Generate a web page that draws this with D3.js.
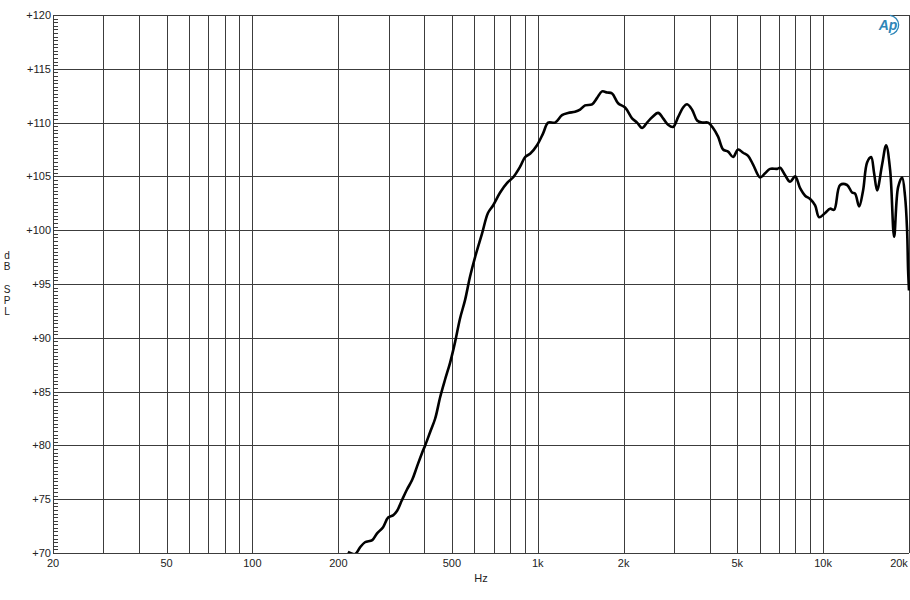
<!DOCTYPE html>
<html>
<head>
<meta charset="utf-8">
<script src="https://cdn.jsdelivr.net/npm/d3@7"></script>
<style>
html,body{margin:0;padding:0;background:#fff;}
svg{display:block;}
text{font-family:"Liberation Sans",Arial,sans-serif;fill:#222;}
</style>
</head>
<body>
<svg id="chart" width="910" height="600"></svg>
<script>
// ---- data ----
const freqs = [216,229,238,248,263,273,287,299,311,321,334,348,363,377,393,403,419,437,455,473,493,513,534,556,579,603,638,669,697,738,781,819,867,903,940,994,1044,1087,1150,1216,1277,1351,1407,1465,1550,1614,1680,1750,1822,1912,2023,2140,2229,2320,2416,2516,2641,2749,2862,2980,3103,3231,3336,3474,3617,3766,3953,4115,4285,4461,4645,4836,5035,5243,5459,5683,6015,6263,6520,6900,7069,7361,7662,7979,8307,8650,9006,9377,9684,10164,10582,10930,11472,12136,12636,12946,13370,13808,14262,14730,15092,15462,16100,16628,17174,17738,18318,18920,19380,19694,19854,20000];
const spl = [70.1,69.9,70.5,71.0,71.2,71.8,72.4,73.3,73.5,73.9,74.9,75.9,76.8,78.0,79.3,80.0,81.2,82.5,84.5,86.1,87.7,89.6,91.8,93.5,95.7,97.5,99.7,101.6,102.3,103.5,104.4,104.9,105.9,106.8,107.1,107.9,109.0,110.0,110.0,110.7,110.9,111.0,111.2,111.6,111.7,112.3,112.9,112.8,112.7,111.8,111.4,110.4,110.0,109.5,110.0,110.5,110.9,110.4,109.8,109.6,110.5,111.4,111.7,111.2,110.2,110.0,110.0,109.5,108.7,107.5,107.3,106.8,107.5,107.2,106.9,106.1,104.9,105.3,105.7,105.7,105.8,105.1,104.5,105.0,103.9,103.2,102.9,102.3,101.2,101.6,102.0,101.9,104.2,104.2,103.5,103.4,102.2,103.7,106.3,106.8,105.3,103.7,106.1,107.9,105.6,99.4,104.0,104.9,103.1,100.0,96.3,94.4];
const xGrid = [20,30,40,50,60,70,80,90,100,200,300,400,500,600,700,800,900,1000,2000,3000,4000,5000,6000,7000,8000,9000,10000,20000];
const xTickVals = [20,50,100,200,500,1000,2000,5000,10000,20000];
const xTickLabels = ["20","50","100","200","500","1k","2k","5k","10k","20k"];
const yTickVals = [70,75,80,85,90,95,100,105,110,115,120];
const yTickLabels = ["+70","+75","+80","+85","+90","+95","+100","+105","+110","+115","+120"];
const yLabelChars = ["d","B","","S","P","L"];
const xTitle = "Hz";

// ---- layout ----
const L = 53, R = 909, T = 15, B = 553;
const svg = d3.select("#chart");
const x = d3.scaleLog().domain([20,20000]).range([L,R]);
const y = d3.scaleLinear().domain([70,120]).range([B,T]);

const grid = svg.append("g").attr("stroke","#3c3c3c").attr("stroke-width",1).attr("shape-rendering","crispEdges");
grid.selectAll("line.v").data(xGrid).join("line").attr("class","v")
  .attr("x1",d=>Math.round(x(d))+0.5).attr("x2",d=>Math.round(x(d))+0.5).attr("y1",T).attr("y2",B);
grid.selectAll("line.h").data(yTickVals).join("line").attr("class","h")
  .attr("x1",L).attr("x2",R).attr("y1",d=>Math.round(y(d))+0.5).attr("y2",d=>Math.round(y(d))+0.5);
grid.append("line").attr("x1",L+0.5).attr("x2",L+0.5).attr("y1",T).attr("y2",B);

// minor ticks on left axis (1/3 dB)
const minor = d3.range(70, 120.001, 1/3);
grid.selectAll("line.m").data(minor).join("line").attr("class","m")
  .attr("x1",L).attr("x2",L+5).attr("y1",d=>Math.round(y(d))+0.5).attr("y2",d=>Math.round(y(d))+0.5);

// y labels
svg.append("g").selectAll("text").data(yTickVals).join("text")
  .attr("x",L-2).attr("y",d=>y(d)+4).attr("text-anchor","end")
  .attr("font-size",11).text((d,i)=>yTickLabels[i]);

// x labels (last one kept inside the page)
svg.append("g").selectAll("text").data(xTickVals).join("text")
  .attr("x",d=>Math.min(x(d), 899)).attr("y",567).attr("text-anchor","middle")
  .attr("font-size",11).text((d,i)=>xTickLabels[i]);

svg.append("text").attr("x",481).attr("y",582).attr("text-anchor","middle").attr("font-size",11).text(xTitle);

// y title stacked
svg.append("g").selectAll("text").data(yLabelChars).join("text")
  .attr("x",7).attr("y",(d,i)=>259+i*11.2).attr("text-anchor","middle")
  .attr("font-size",10).text(d=>d);

// curve
svg.append("clipPath").attr("id","clip").append("rect").attr("x",L).attr("y",T).attr("width",R-L+1).attr("height",B-T);
const pts = freqs.map((f,i)=>[f,spl[i]]);
const line = d3.line().x(d=>x(d[0])).y(d=>y(d[1])).curve(d3.curveCatmullRom.alpha(0.5));
svg.append("path").datum(pts).attr("d",line).attr("fill","none")
  .attr("stroke","#000").attr("stroke-width",2.6).attr("stroke-linejoin","round")
  .attr("clip-path","url(#clip)");

// AP logo
const logo = svg.append("g").attr("transform","translate(889,25)");
logo.append("text").attr("x",-1).attr("y",5).attr("text-anchor","middle")
  .attr("font-size",14).attr("font-style","italic").attr("font-weight","bold").style("fill","#2f86b8")
  .attr("font-family","Liberation Sans, sans-serif").text("Ap");
logo.append("path").attr("d",d3.arc()({innerRadius:9,outerRadius:10.3,startAngle:0.1,endAngle:3.0}))
  .attr("fill","#2f86b8");
</script>
</body>
</html>
